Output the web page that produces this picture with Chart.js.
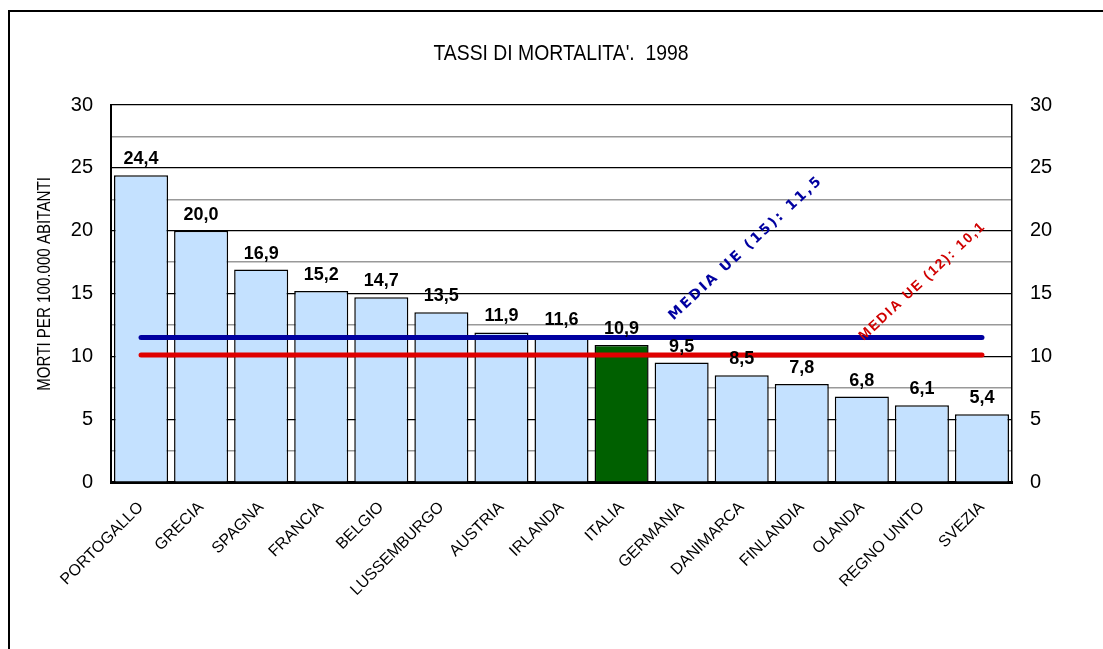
<!DOCTYPE html>
<html>
<head>
<meta charset="utf-8">
<script src="https://cdn.jsdelivr.net/npm/chart.js@4.4.1/dist/chart.umd.min.js"></script>
<style>
  html, body { margin: 0; padding: 0; background: #fff; overflow: hidden; }
  #frame { position: absolute; left: 8px; top: 10px; width: 1200px; height: 700px;
           border-left: 2px solid #000; border-top: 2px solid #000; pointer-events: none; }
  canvas { position: absolute; left: 0; top: 0; }
</style>
</head>
<body>
<canvas id="mortalityChart" width="1103" height="649"></canvas>
<div id="frame"></div>
<script>
const countries = ['PORTOGALLO', 'GRECIA', 'SPAGNA', 'FRANCIA', 'BELGIO', 'LUSSEMBURGO', 'AUSTRIA',
    'IRLANDA', 'ITALIA', 'GERMANIA', 'DANIMARCA', 'FINLANDIA', 'OLANDA', 'REGNO UNITO', 'SVEZIA'];
const deathRates = [24.4, 20.0, 16.9, 15.2, 14.7, 13.5, 11.9, 11.6, 10.9, 9.5, 8.5, 7.8, 6.8, 6.1, 5.4];
const avgEU15 = [11.5, 11.5, 11.5, 11.5, 11.5, 11.5, 11.5, 11.5, 11.5, 11.5, 11.5, 11.5, 11.5, 11.5, 11.5];
const avgEU12 = [10.1, 10.1, 10.1, 10.1, 10.1, 10.1, 10.1, 10.1, 10.1, 10.1, 10.1, 10.1, 10.1, 10.1, 10.1];
const yTicks = [0, 5, 10, 15, 20, 25, 30];

const sans = "'Liberation Sans', Arial, sans-serif";
const fmt = v => v.toFixed(1).replace('.', ',');

// title, axis title, value labels and the rotated average labels
const annotations = {
    id: 'annotations',
    afterDatasetsDraw(chart) {
        const ctx = chart.ctx;
        const x = chart.scales.x, y = chart.scales.y;
        ctx.save();

        ctx.fillStyle = '#000';
        ctx.textAlign = 'center';
        ctx.textBaseline = 'middle';

        // narrow look: squeeze horizontally
        ctx.save();
        ctx.translate(561, 54);
        ctx.scale(0.88, 1);
        ctx.font = '22px ' + sans;
        ctx.fillText("TASSI DI MORTALITA'.  1998", 0, 0);
        ctx.restore();

        ctx.save();
        ctx.translate(45, 284);
        ctx.rotate(-Math.PI / 2);
        ctx.scale(0.84, 1);
        ctx.font = '18px ' + sans;
        ctx.fillText('MORTI PER 100.000 ABITANTI', 0, 0);
        ctx.restore();

        ctx.font = 'bold 18px ' + sans;
        ctx.textBaseline = 'alphabetic';
        deathRates.forEach((v, i) => {
            ctx.fillText(fmt(v), x.getPixelForValue(i), y.getPixelForValue(v) - 11);
        });

        // MEDIA UE labels
        ctx.textAlign = 'left';
        ctx.save();
        ctx.translate(x.getPixelForValue(8) + 52, y.getPixelForValue(avgEU15[0]) - 17);
        ctx.rotate(-43 * Math.PI / 180);
        ctx.font = 'bold 14px "DejaVu Sans", sans-serif';
        ctx.letterSpacing = '2.4px';
        ctx.fillStyle = '#0000A0';
        ctx.fillText('MEDIA UE (15): ' + fmt(avgEU15[0]), 0, 0);
        ctx.restore();

        ctx.save();
        ctx.translate(x.getPixelForValue(12) + 2, y.getPixelForValue(avgEU12[0]) - 14);
        ctx.rotate(-43 * Math.PI / 180);
        ctx.font = 'bold 14px ' + sans;
        ctx.letterSpacing = '1.8px';
        ctx.fillStyle = '#D00000';
        ctx.fillText('MEDIA UE (12): ' + fmt(avgEU12[0]), 0, 0);
        ctx.restore();

        ctx.restore();
    }
};

const mortalityChart = new Chart(document.getElementById('mortalityChart'), {
    type: 'bar',
    data: {
        labels: countries,
        datasets: [{
            label: 'Tasso di mortalità',
            data: deathRates,
            backgroundColor: countries.map(c => c === 'ITALIA' ? '#006000' : '#C4E1FF'),
            borderColor: '#000',
            borderWidth: 1.5,
            categoryPercentage: 1.0,
            barPercentage: 0.9,
            order: 3
        }, {
            type: 'line',
            label: 'Media UE (15)',
            data: avgEU15,
            borderColor: '#0000A0',
            borderWidth: 5,
            borderCapStyle: 'round',
            pointRadius: 0,
            order: 1
        }, {
            type: 'line',
            label: 'Media UE (12)',
            data: avgEU12,
            borderColor: '#E00000',
            borderWidth: 5,
            borderCapStyle: 'round',
            pointRadius: 0,
            order: 2
        }]
    },
    options: {
        responsive: false,
        animation: false,
        layout: { padding: { left: 0, right: 0, top: 105, bottom: 0 } },
        plugins: {
            legend: { display: false },
            tooltip: { enabled: false }
        },
        scales: {
            x: {
                grid: { display: false },
                border: { color: '#000', width: 3 },
                ticks: {
                    color: '#000',
                    font: { family: sans, size: 16 },
                    autoSkip: false,
                    minRotation: 45,
                    maxRotation: 45,
                    padding: 8
                },
                afterFit: s => { s.height = 167; }
            },
            y: {
                min: 0,
                max: 30,
                position: 'left',
                afterBuildTicks: s => {
                    s.ticks = [];
                    for (let i = 0; i <= 12; i++) s.ticks.push({ value: i * 2.5 });
                },
                grid: {
                    drawTicks: false,
                    color: c => (c.tick.value % 5 === 0 ? '#000' : '#999'),
                    lineWidth: c => (c.tick.value % 5 === 0 ? 1.2 : 1.5)
                },
                border: { color: '#000', width: 2 },
                ticks: {
                    color: '#000',
                    padding: 18,
                    font: { family: sans, size: 20 },
                    callback: v => (yTicks.includes(v) ? v : '')
                },
                afterFit: s => { s.width = 111; }
            },
            y2: {
                min: 0,
                max: 30,
                position: 'right',
                afterBuildTicks: s => { s.ticks = yTicks.map(v => ({ value: v })); },
                grid: { display: false, drawTicks: false },
                border: { color: '#000', width: 1.5 },
                ticks: {
                    color: '#000',
                    padding: 18,
                    font: { family: sans, size: 20 }
                },
                afterFit: s => { s.width = 91; }
            }
        }
    },
    plugins: [annotations]
});
</script>
</body>
</html>
